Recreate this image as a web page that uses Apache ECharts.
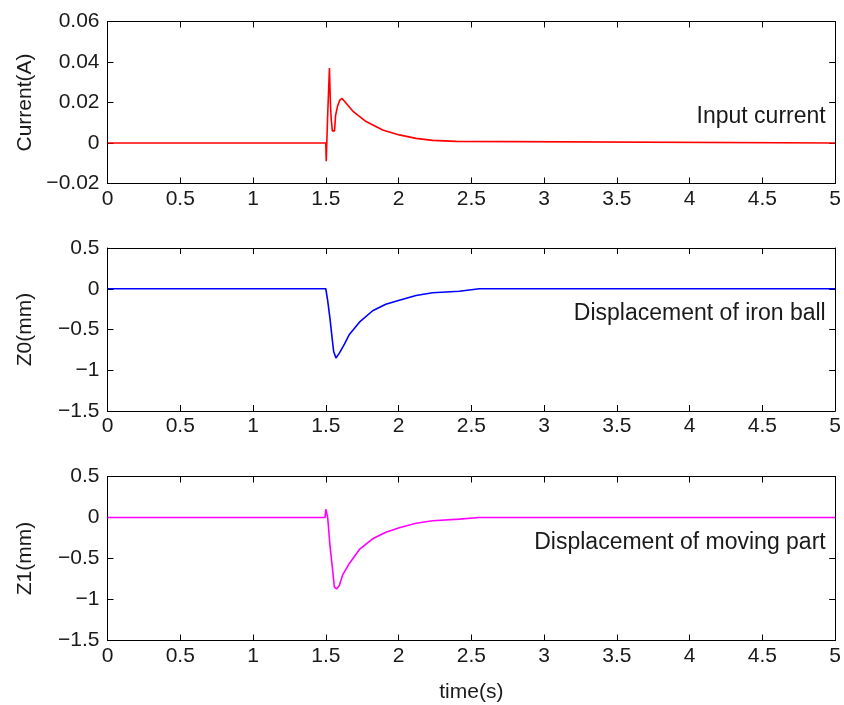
<!DOCTYPE html>
<html>
<head>
<meta charset="utf-8">
<script src="https://cdn.jsdelivr.net/npm/echarts@6/dist/echarts.min.js"></script>
<style>
  html, body { margin: 0; padding: 0; background: #ffffff; }
  #chart { width: 844px; height: 705px; }
</style>
</head>
<body>
<div id="chart"></div>
<script>
// Time axis shared by all three panels (seconds)
const timeMin = 0;
const timeMax = 5;
const timeStep = 0.5;

// Input current (A)
const currentT = [0, 1.5, 1.503, 1.512, 1.525, 1.532, 1.537, 1.545, 1.56, 1.567, 1.58, 1.595, 1.612,
                  1.685, 1.777, 1.891, 2.005, 2.12, 2.234, 2.395, 2.40, 5];
const currentA = [0, 0, -0.009, 0.012, 0.037, 0.019, 0.012, 0.006, 0.006, 0.0135, 0.018, 0.021, 0.022,
                  0.0158, 0.0106, 0.0064, 0.004, 0.0023, 0.0013, 0.0008, 0, 0];

// Displacement of iron ball Z0 (mm)
const z0T = [0, 1.5, 1.513, 1.529, 1.543, 1.554, 1.570, 1.593, 1.628, 1.662, 1.731, 1.822, 1.912,
             2.005, 2.12, 2.234, 2.418, 2.555, 5];
const z0mm = [0, 0, -0.145, -0.37, -0.60, -0.77, -0.85, -0.79, -0.68, -0.56, -0.41, -0.27, -0.19,
              -0.14, -0.083, -0.05, -0.03, 0, 0];

// Displacement of moving part Z1 (mm)
const z1T = [0, 1.495, 1.5, 1.507, 1.513, 1.529, 1.547, 1.559, 1.575, 1.593, 1.616, 1.662, 1.731,
             1.822, 1.912, 2.005, 2.12, 2.234, 2.418, 2.555, 5];
const z1mm = [0, 0, 0.1, 0.08, 0, -0.35, -0.64, -0.85, -0.87, -0.83, -0.70, -0.56, -0.39,
              -0.26, -0.18, -0.124, -0.07, -0.04, -0.02, 0, 0];

// Panel text
const panelNames = ['Current(A)', 'Z0(mm)', 'Z1(mm)'];
const panelNotes = ['Input current', 'Displacement of iron ball', 'Displacement of moving part'];
const noteAnchors = [[4.935, 0.013], [4.935, -0.30], [4.935, -0.31]];
const xName = 'time(s)';

const FONT = '"Liberation Sans", Arial, sans-serif';
const INK = '#000000';
const TEXT = '#1a1a1a';

const grids = [
  { left: 107.5, right: 5.5, top: 21.5, height: 162 },
  { left: 107.5, right: 5.5, top: 248, height: 163 },
  { left: 107.5, right: 5.5, top: 476.5, height: 164 }
];

const yRanges = [
  { min: -0.02, max: 0.06, interval: 0.02, digits: 2 },
  { min: -1.5, max: 0.5, interval: 0.5, digits: 1 },
  { min: -1.5, max: 0.5, interval: 0.5, digits: 1 }
];

// Tick labels use a true minus sign
const fmtNum = (v, d) => String(+v.toFixed(d)).replace('-', '\u2212');

const tick = { show: true, inside: true, length: 6, lineStyle: { color: INK, width: 1 } };
const line = { show: true, onZero: false, lineStyle: { color: INK, width: 1 } };

const xAxes = [];
const yAxes = [];
grids.forEach((g, i) => {
  const base = { gridIndex: i, type: 'value', min: timeMin, max: timeMax, interval: timeStep,
                 axisLine: line, axisTick: tick, splitLine: { show: false } };
  xAxes.push(Object.assign({}, base, {
    position: 'bottom',
    axisLabel: { show: true, fontSize: 21, fontFamily: FONT, color: TEXT, margin: 5,
                 formatter: v => fmtNum(v, 1) },
    name: i === 2 ? xName : '',
    nameLocation: 'middle', nameGap: 41,
    nameTextStyle: { fontSize: 21, fontFamily: FONT, color: TEXT }
  }));
  xAxes.push(Object.assign({}, base, { position: 'top', axisLabel: { show: false } }));

  const r = yRanges[i];
  const ybase = { gridIndex: i, type: 'value', min: r.min, max: r.max, interval: r.interval,
                  axisLine: line, axisTick: tick, splitLine: { show: false } };
  yAxes.push(Object.assign({}, ybase, {
    position: 'left',
    axisLabel: { show: true, fontSize: 21, fontFamily: FONT, color: TEXT, margin: 8,
                 formatter: v => fmtNum(v, r.digits) },
    name: panelNames[i], nameLocation: 'middle', nameRotate: 90, nameGap: 72,
    nameTextStyle: { fontSize: 21, fontFamily: FONT, color: TEXT }
  }));
  yAxes.push(Object.assign({}, ybase, { position: 'right', axisLabel: { show: false } }));
});

const pairs = (t, v) => t.map((x, k) => [x, v[k]]);
const colors = ['#ff0000', '#0000ff', '#ff00ff'];
const traces = [pairs(currentT, currentA), pairs(z0T, z0mm), pairs(z1T, z1mm)];

const series = traces.map((data, i) => ({
  type: 'line',
  xAxisIndex: i * 2,
  yAxisIndex: i * 2,
  data: data,
  showSymbol: false,
  symbol: 'none',
  lineStyle: { color: colors[i], width: 1.6 },
  markPoint: {
    symbol: 'circle', symbolSize: 0, silent: true,
    data: [{ coord: noteAnchors[i] }],
    label: { show: true, position: 'left', distance: 0, formatter: panelNotes[i],
             fontSize: 23, fontFamily: FONT, color: TEXT }
  }
}));

const chart = echarts.init(document.getElementById('chart'), null, { renderer: 'canvas' });
chart.setOption({
  animation: false,
  backgroundColor: '#ffffff',
  grid: grids,
  xAxis: xAxes,
  yAxis: yAxes,
  series: series
});
</script>
</body>
</html>
